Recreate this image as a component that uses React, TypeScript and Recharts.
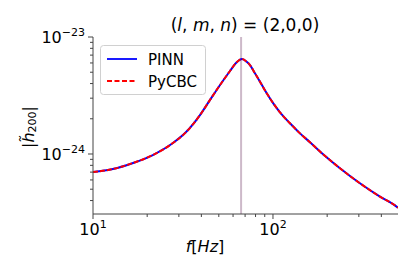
import React from "react";
import {
  Customized,
  Line,
  LineChart,
  ReferenceLine,
  XAxis,
  YAxis,
} from "recharts";

// values (log-log)
const freqs = [
  10, 12.9, 16.7, 21.5, 27.8, 32.9, 39.3, 44.7, 50.8, 57.7, 62.3, 67.3, 71.7,
  74.5, 79.4, 84.7, 92.3, 100.4, 109.4, 124.3, 141.3, 160.5, 182.4, 235.6, 304,
  393, 486, 495,
];
const pinn = [
  7.02e-25, 7.44e-25, 8.38e-25, 9.8e-25, 1.24e-24, 1.54e-24, 2.15e-24, 2.9e-24,
  3.89e-24, 5.12e-24, 6.0e-24, 6.49e-24, 6.11e-24, 5.76e-24, 4.9e-24,
  4.15e-24, 3.3e-24, 2.71e-24, 2.27e-24, 1.83e-24, 1.5e-24, 1.26e-24,
  1.05e-24, 7.55e-25, 5.62e-25, 4.32e-25, 3.55e-25, 3.47e-25,
];
const pycbc = [
  7.02e-25, 7.44e-25, 8.38e-25, 9.8e-25, 1.24e-24, 1.54e-24, 2.15e-24, 2.9e-24,
  3.89e-24, 5.12e-24, 6.0e-24, 6.49e-24, 6.11e-24, 5.76e-24, 4.9e-24,
  4.15e-24, 3.3e-24, 2.71e-24, 2.27e-24, 1.83e-24, 1.5e-24, 1.26e-24,
  1.05e-24, 7.55e-25, 5.62e-25, 4.32e-25, 3.55e-25, 3.47e-25,
];
const peakFreq = 66.5;

const xMajor = [10, 100];
const xMinor = [20, 30, 40, 50, 60, 70, 80, 90, 200, 300, 400];
const yMajor = [1e-24, 1e-23];
const yMinor = [
  4e-25, 5e-25, 6e-25, 7e-25, 8e-25, 9e-25, 2e-24, 3e-24, 4e-24, 5e-24, 6e-24,
  7e-24, 8e-24, 9e-24,
];

const data = freqs.map((f, i) => ({ f, pinn: pinn[i], pycbc: pycbc[i] }));

const FONT = "DejaVu Sans";
const AX = "#444";

function XTick({ x, y, payload }: any) {
  const v = payload.value;
  const major = xMajor.includes(v);
  return (
    <g>
      <line x1={x} x2={x} y1={y} y2={y + (major ? 5 : 3)} stroke={AX} />
      {major && (
        <text x={x} y={y + 21} textAnchor="middle" fontSize={16} fill="#000" fontFamily={FONT}>
          10
          <tspan dy={-7} fontSize={11}>
            {Math.round(Math.log10(v))}
          </tspan>
        </text>
      )}
    </g>
  );
}

function YTick({ x, y, payload }: any) {
  const v = payload.value;
  const major = yMajor.some((m) => Math.abs(m - v) / m < 1e-6);
  return (
    <g>
      <line x1={x} x2={x - (major ? 5 : 3)} y1={y} y2={y} stroke={AX} />
      {major && (
        <text x={x - 8} y={y + 6} textAnchor="end" fontSize={16} fill="#000" fontFamily={FONT}>
          10
          <tspan dy={-7} fontSize={11}>
            {"\u2212" + Math.abs(Math.round(Math.log10(v)))}
          </tspan>
        </text>
      )}
    </g>
  );
}

function Labels() {
  return (
    <g fontFamily={FONT} fill="#000">
      <text x={245} y={31} textAnchor="middle" fontSize={17}>
        (<tspan fontStyle="italic">l</tspan>, <tspan fontStyle="italic">m</tspan>,{" "}
        <tspan fontStyle="italic">n</tspan>) = (2,0,0)
      </text>
      <text x={205} y={252} textAnchor="middle" fontSize={16}>
        <tspan fontStyle="italic">f</tspan>[<tspan fontStyle="italic">Hz</tspan>]
      </text>
      <text
        x={28}
        y={127}
        textAnchor="middle"
        dominantBaseline="central"
        fontSize={16}
        transform="rotate(-90, 28, 127)"
      >
        |<tspan fontStyle="italic">h̃</tspan>
        <tspan fontSize={11} dy={4}>200</tspan>
        <tspan dy={-4}>|</tspan>
      </text>
      {/* legend */}
      <g transform="translate(100,45)">
        <rect x={0.5} y={0.5} width={105} height={49} rx={3} fill="#fff" fillOpacity={0.8} stroke="#d0d0d0" />
        <line x1={7} x2={37} y1={14} y2={14} stroke="#0000ff" strokeWidth={1.8} />
        <text x={48} y={19.5} fontSize={15}>PINN</text>
        <line x1={7} x2={37} y1={36} y2={36} stroke="#ff0000" strokeWidth={1.8} strokeDasharray="5 2.5" />
        <text x={48} y={41.5} fontSize={15}>PyCBC</text>
      </g>
    </g>
  );
}

export default function App() {
  return (
    <div style={{ position: "absolute", left: 0, top: 0, background: "#fff" }}>
      <LineChart
        width={415}
        height={277}
        data={data}
        margin={{ top: 37, right: 17, bottom: 0, left: 0 }}
      >
        <XAxis
          xAxisId="b"
          dataKey="f"
          type="number"
          scale="log"
          domain={[10, 495]}
          allowDataOverflow
          ticks={[...xMajor, ...xMinor]}
          tick={<XTick />}
          tickLine={false}
          tickSize={0}
          tickMargin={0}
          height={63}
          axisLine={{ stroke: AX }}
          interval={0}
        />
        <XAxis
          xAxisId="t"
          orientation="top"
          dataKey="f"
          type="number"
          scale="log"
          domain={[10, 495]}
          allowDataOverflow
          tick={false}
          tickLine={false}
          height={0}
          axisLine={{ stroke: AX }}
        />
        <YAxis
          yAxisId="l"
          type="number"
          scale="log"
          domain={[3.07e-25, 1e-23]}
          allowDataOverflow
          ticks={[...yMinor, ...yMajor]}
          tick={<YTick />}
          tickLine={false}
          tickSize={0}
          tickMargin={0}
          width={93}
          axisLine={{ stroke: AX }}
          interval={0}
        />
        <YAxis
          yAxisId="r"
          orientation="right"
          type="number"
          scale="log"
          domain={[3.07e-25, 1e-23]}
          allowDataOverflow
          tick={false}
          tickLine={false}
          width={0}
          axisLine={{ stroke: AX }}
        />
        <ReferenceLine
          xAxisId="b"
          yAxisId="l"
          x={peakFreq}
          stroke="#cdb9c9"
          strokeWidth={2}
        />
        <Line
          xAxisId="b"
          yAxisId="l"
          dataKey="pinn"
          type="monotone"
          stroke="#0000ff"
          strokeWidth={2}
          dot={false}
          isAnimationActive={false}
        />
        <Line
          xAxisId="b"
          yAxisId="l"
          dataKey="pycbc"
          type="monotone"
          stroke="#ff0000"
          strokeWidth={2}
          strokeDasharray="5 2"
          dot={false}
          isAnimationActive={false}
        />
        <Customized component={<Labels />} />
      </LineChart>
    </div>
  );
}
